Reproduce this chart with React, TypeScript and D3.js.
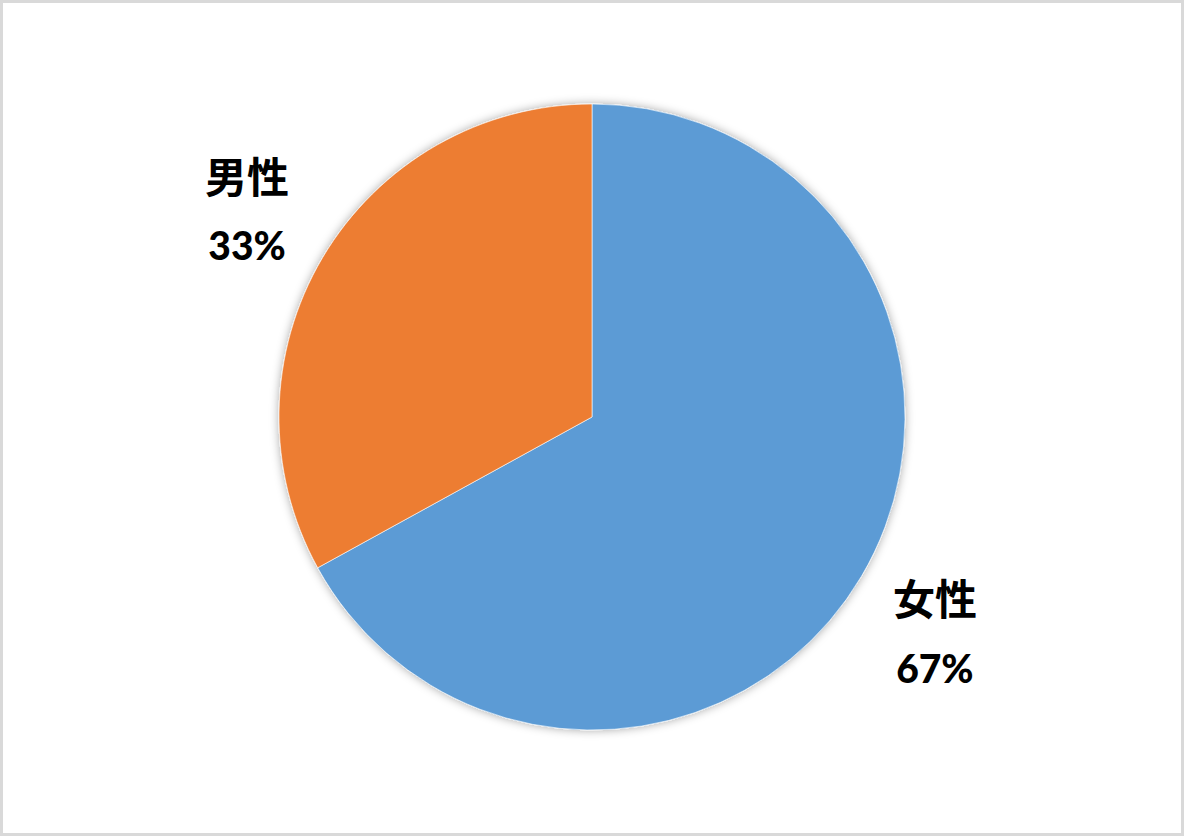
import * as d3 from "d3";
import { useEffect, useRef } from "react";

const categories = ["女性", "男性"];
const values = [67, 33];
const labels = ["67%", "33%"];
const colors = ["#5B9BD5", "#ED7D31"];

const PieChart = () => {
  const svgRef = useRef(null);

  const width = 1184;
  const height = 836;

  useEffect(() => {
    const svg = d3
      .select(svgRef.current)
      .attr("viewBox", `0, 0, ${width}, ${height}`);

    svg.selectAll("*").remove();

    const defs = svg.append("defs");
    const filter = defs
      .append("filter")
      .attr("id", "pieShadow")
      .attr("x", "-20%")
      .attr("y", "-20%")
      .attr("width", "140%")
      .attr("height", "140%");
    filter
      .append("feDropShadow")
      .attr("dx", 0)
      .attr("dy", 0)
      .attr("stdDeviation", 5)
      .attr("flood-color", "#000")
      .attr("flood-opacity", 0.35);

    // chart area border
    svg
      .append("rect")
      .attr("x", 1.5)
      .attr("y", 1.5)
      .attr("width", width - 3)
      .attr("height", height - 3)
      .attr("fill", "#fff")
      .attr("stroke", "#d9d9d9")
      .attr("stroke-width", 3);

    const cx = 592;
    const cy = 417;
    const radius = 313;

    const pie = d3
      .pie<number>()
      .sort(null)
      .value((d) => d);

    const arcs = pie(values);

    const arc = d3.arc<d3.PieArcDatum<number>>().innerRadius(0).outerRadius(radius);
    const labelArc = d3
      .arc<d3.PieArcDatum<number>>()
      .innerRadius(403)
      .outerRadius(403);

    const g = svg.append("g").attr("transform", `translate(${cx},${cy})`);

    g.append("g")
      .attr("filter", "url(#pieShadow)")
      .selectAll("path")
      .data(arcs)
      .join("path")
      .attr("d", arc as any)
      .attr("fill", (_, i) => colors[i])
      .attr("stroke", "#ffffff")
      .attr("stroke-opacity", 0.6)
      .attr("stroke-width", 1);

    // labels sit outside the pie; the lower one is pushed down a little (best fit)
    const lbl = g
      .selectAll("g.label")
      .data(arcs)
      .join("g")
      .attr("class", "label")
      .attr("transform", (d) => {
        const [x, y] = labelArc.centroid(d);
        return `translate(${x - (y > 0 ? 4 : -2)},${y + (y > 0 ? 12 : 0)})`;
      })
      .attr("text-anchor", "middle")
      .attr("fill", "#000")
      .attr("font-weight", "bold");

    lbl
      .append("text")
      .attr("y", -34)
      .attr("dy", "0.35em")
      .attr("font-family", "'Noto Sans CJK JP', 'Noto Sans CJK SC', sans-serif")
      .attr("font-size", 42)
      .text((_, i) => categories[i]);

    lbl
      .append("text")
      .attr("y", 35)
      .attr("dy", "0.35em")
      .attr("font-family", "Lato, 'Open Sans', sans-serif")
      .attr("font-size", 39)
      .attr("font-weight", 900)
      .text((_, i) => labels[i]);
  }, []);

  return (
    <svg
      width={width}
      height={height}
      ref={svgRef}
      style={{ position: "absolute", left: 0, top: 0, display: "block" }}
    />
  );
};

export default function App() {
  return <PieChart />;
}
